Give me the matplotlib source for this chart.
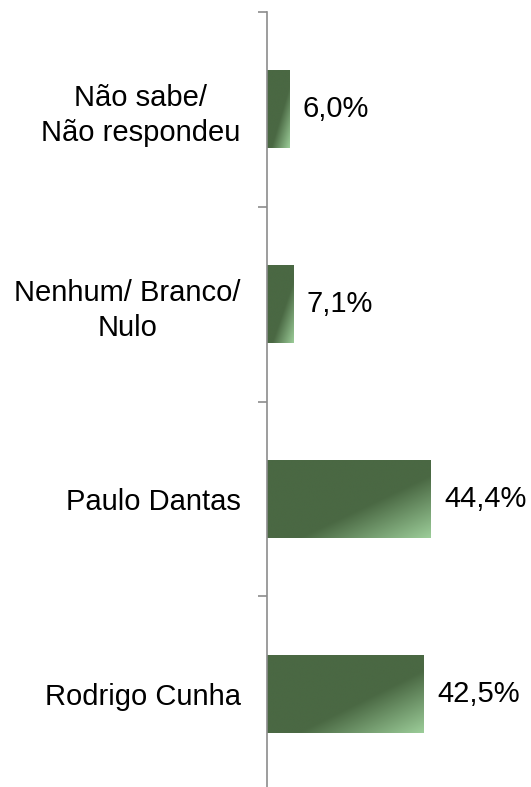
import matplotlib
matplotlib.use("Agg")
import matplotlib.pyplot as plt
import numpy as np
from matplotlib.colors import LinearSegmentedColormap

plt.rcParams['font.family'] = ['Liberation Sans', 'DejaVu Sans']

categories = ["Rodrigo Cunha", "Paulo Dantas", "Nenhum/ Branco/\nNulo", "Não sabe/\nNão respondeu"]
values = [42.5, 44.4, 7.1, 6.0]
labels = ["42,5%", "44,4%", "7,1%", "6,0%"]

dark = "#4a6843"
light = "#9ccd99"
cmap = LinearSegmentedColormap.from_list("g", [(0, dark), (0.6, dark), (1, light)])

fig = plt.figure(figsize=(5.31, 7.87), dpi=100)
ax = fig.add_axes([267 / 531, -4 / 787, 264 / 531, 779 / 787])

y = np.arange(len(categories))
bars = ax.barh(y, values, height=0.4, color="none", edgecolor="none")

# diagonal gradient fill inside each bar
u, v = np.meshgrid(np.linspace(0, 1, 200), np.linspace(0, 1, 200))
grad = (u + v) / 2
for b in bars:
    x0, y0 = b.get_x(), b.get_y()
    w, h = b.get_width(), b.get_height()
    im = ax.imshow(grad, cmap=cmap, vmin=0, vmax=1, origin="upper",
                   extent=[x0, x0 + w, y0, y0 + h], aspect="auto",
                   interpolation="bilinear")
    im.set_clip_path(b)

for yi, val, lab in zip(y, values, labels):
    ax.annotate(lab, (val, yi), xytext=(9.5, 0), textcoords="offset points",
                ha="left", va="center", fontsize=21)

ax.set_xlim(0, 264 / 3.69)
ax.set_ylim(-0.5, 3.5)

ax.set_yticks(y)
ax.set_yticklabels(categories, fontsize=21, linespacing=1.3, multialignment="center")
ax.set_yticks(np.arange(-0.5, 4, 1), minor=True)
ax.tick_params(axis="y", which="major", length=0, pad=19)
ax.tick_params(axis="y", which="minor", length=6.5, width=1.2, color="#8c8c8c")

for s in ["top", "right", "bottom"]:
    ax.spines[s].set_visible(False)
ax.spines["left"].set_color("#8c8c8c")
ax.spines["left"].set_linewidth(1.2)
ax.set_xticks([])

fig.savefig("out.png", dpi=100)
